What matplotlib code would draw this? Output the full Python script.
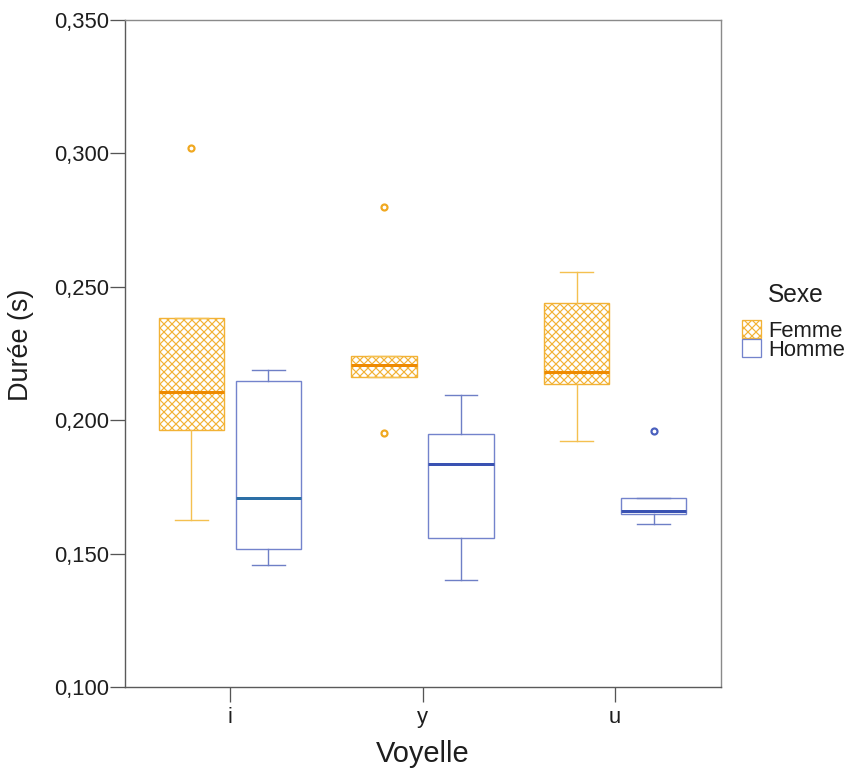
import matplotlib
matplotlib.use('Agg')
import matplotlib.pyplot as plt
from matplotlib.patches import Patch

# ---- data ----
voyelles = ['i', 'y', 'u']
sexes = ['Femme', 'Homme']

femme_whislo = [0.1626, 0.2162, 0.1922]
femme_q1 = [0.1963, 0.2162, 0.2136]
femme_med = [0.2106, 0.2207, 0.2181]
femme_q3 = [0.2383, 0.2241, 0.2439]
femme_whishi = [0.2383, 0.2241, 0.2556]
femme_fliers = [[0.302], [0.2799, 0.1952], []]

homme_whislo = [0.1457, 0.1401, 0.1611]
homme_q1 = [0.1517, 0.1559, 0.1649]
homme_med = [0.1708, 0.1836, 0.1660]
homme_q3 = [0.2147, 0.1948, 0.1708]
homme_whishi = [0.2188, 0.2094, 0.1708]
homme_fliers = [[], [], [0.1960]]

yticks = [0.100, 0.150, 0.200, 0.250, 0.300, 0.350]
ytick_labels = ['0,100', '0,150', '0,200', '0,250', '0,300', '0,350']

# ---- style ----
plt.rcParams['font.family'] = ['Liberation Sans', 'DejaVu Sans']
plt.rcParams['hatch.linewidth'] = 1.2

F_EDGE = '#F2B236'
F_MED = '#EE8A00'
F_WHISK = '#F4C050'
H_EDGE = '#7383CC'
H_MEDS = ['#2C6FA6', '#3A52B2', '#3A52B2']
H_WHISK = '#6E7FC6'
TXT = '#1e1e1e'

DPI = 72
fig = plt.figure(figsize=(857 / DPI, 778 / DPI), dpi=DPI)
ax = fig.add_axes([125 / 857, 91 / 778, 596 / 857, 667 / 778])

offset = 0.2
bw = 0.338
capw = 0.17


def make_stats(whislo, q1, med, q3, whishi, fliers):
    out = []
    for k in range(len(med)):
        out.append(dict(whislo=whislo[k], q1=q1[k], med=med[k], q3=q3[k],
                        whishi=whishi[k], fliers=fliers[k]))
    return out


fstats = make_stats(femme_whislo, femme_q1, femme_med, femme_q3, femme_whishi, femme_fliers)
hstats = make_stats(homme_whislo, homme_q1, homme_med, homme_q3, homme_whishi, homme_fliers)

pos = list(range(len(voyelles)))

bf = ax.bxp(fstats, positions=[p - offset for p in pos], widths=bw,
            capwidths=capw, patch_artist=True, showfliers=True,
            boxprops=dict(facecolor='white', edgecolor=F_EDGE, linewidth=1.4, hatch='xxx'),
            medianprops=dict(color=F_MED, linewidth=3),
            whiskerprops=dict(color=F_WHISK, linewidth=1.4),
            capprops=dict(color=F_WHISK, linewidth=1.4),
            flierprops=dict(marker='o', markersize=6, markeredgewidth=2.2,
                            markerfacecolor='white', markeredgecolor='#F0A820'))

bh = ax.bxp(hstats, positions=[p + offset for p in pos], widths=bw,
            capwidths=capw, patch_artist=True, showfliers=True,
            boxprops=dict(facecolor='white', edgecolor=H_EDGE, linewidth=1.4),
            medianprops=dict(color=H_MEDS[0], linewidth=3),
            whiskerprops=dict(color=H_WHISK, linewidth=1.4),
            capprops=dict(color=H_WHISK, linewidth=1.4),
            flierprops=dict(marker='o', markersize=6, markeredgewidth=2.2,
                            markerfacecolor='white', markeredgecolor='#4A60BE'))
for m, c in zip(bh['medians'], H_MEDS):
    m.set_color(c)

ax.set_xlim(-0.545, 2.55)
ax.set_ylim(yticks[0], yticks[-1])
ax.set_xticks(pos)
ax.set_xticklabels(voyelles)
ax.set_yticks(yticks)
ax.set_yticklabels(ytick_labels)

for s in ax.spines.values():
    s.set_color('#8a8a8a')
    s.set_linewidth(1.4)
ax.spines['left'].set_color('#5a5a5a')
ax.spines['bottom'].set_color('#5a5a5a')

ax.tick_params(axis='both', length=15, width=1.3, color='#555555',
               labelsize=22, labelcolor=TXT, pad=1)
ax.tick_params(axis='x', pad=5)

ax.set_ylabel('Durée (s)', fontsize=27, color=TXT)
ax.yaxis.set_label_coords((34 - 125) / 596, (687 - 345) / 667)
ax.set_xlabel('Voyelle', fontsize=29, color=TXT)
ax.xaxis.set_label_coords(0.5, (687 - 740) / 667)

# legend
fig.text(796 / 857, 1 - 295 / 778, 'Sexe', fontsize=24.5, color=TXT,
         ha='center', va='center')
handles = [Patch(facecolor='white', edgecolor=F_EDGE, hatch='xxx', linewidth=1.3),
           Patch(facecolor='white', edgecolor=H_EDGE, linewidth=1.3)]
leg = fig.legend(handles, sexes, loc='upper left',
                 bbox_to_anchor=(742 / 857, 1 - 320 / 778),
                 frameon=False, fontsize=22,
                 handlelength=0.88, handleheight=0.88, handletextpad=0.3,
                 labelspacing=-0.1, borderpad=0, borderaxespad=0)
for t in leg.get_texts():
    t.set_color(TXT)

fig.savefig('out.png', dpi=DPI, facecolor='white')
